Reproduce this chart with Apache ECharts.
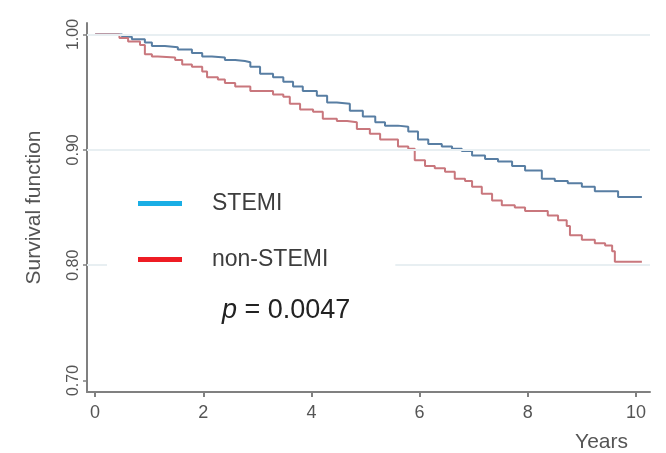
<!DOCTYPE html>
<html>
<head>
<meta charset="utf-8">
<script src="https://cdn.jsdelivr.net/npm/echarts@6/dist/echarts.min.js"></script>
<style>
  html, body { margin: 0; padding: 0; background: #fff; }
  #chart { width: 666px; height: 453px; }
</style>
</head>
<body>
<div id="chart"></div>
<script>
// Kaplan-Meier curves (years, survival)
var stemiYears = [0, 0.50, 0.68, 0.92, 1.05, 1.29, 1.53, 1.79, 1.98, 2.16, 2.40, 2.59, 2.77, 2.87, 3.05, 3.29, 3.48, 3.66, 3.84, 4.10, 4.29, 4.47, 4.71, 4.95, 5.18, 5.36, 5.60, 5.79, 5.97, 6.16, 6.41, 6.60, 6.78, 6.97, 7.21, 7.45, 7.71, 7.95, 8.26, 8.50, 8.74, 9.00, 9.24, 9.67, 10.11];
var stemiSurv = [1.000, 0.998, 0.996, 0.993, 0.990, 0.989, 0.987, 0.984, 0.981, 0.980, 0.978, 0.977, 0.976, 0.972, 0.966, 0.963, 0.959, 0.955, 0.951, 0.947, 0.941, 0.940, 0.934, 0.929, 0.924, 0.921, 0.920, 0.916, 0.909, 0.905, 0.903, 0.901, 0.899, 0.895, 0.892, 0.890, 0.886, 0.882, 0.875, 0.873, 0.871, 0.868, 0.864, 0.859, 0.859];

var nonYears = [0, 0.45, 0.61, 0.83, 0.92, 1.05, 1.16, 1.48, 1.61, 1.79, 1.98, 2.07, 2.27, 2.40, 2.59, 2.87, 3.29, 3.48, 3.60, 3.79, 4.03, 4.21, 4.47, 4.66, 4.84, 5.08, 5.27, 5.60, 5.79, 5.91, 6.10, 6.28, 6.47, 6.65, 6.84, 6.97, 7.15, 7.34, 7.52, 7.76, 7.95, 8.37, 8.56, 8.72, 8.78, 9.00, 9.24, 9.43, 9.56, 9.61, 10.11];
var nonSurv = [1.000, 0.997, 0.994, 0.991, 0.983, 0.981, 0.980, 0.978, 0.974, 0.972, 0.968, 0.963, 0.961, 0.958, 0.955, 0.951, 0.948, 0.946, 0.940, 0.935, 0.933, 0.927, 0.925, 0.924, 0.918, 0.914, 0.909, 0.903, 0.901, 0.891, 0.886, 0.884, 0.881, 0.875, 0.873, 0.868, 0.862, 0.856, 0.852, 0.850, 0.847, 0.843, 0.839, 0.834, 0.826, 0.822, 0.819, 0.817, 0.812, 0.803, 0.803];

var groupNames = ['STEMI', 'non-STEMI'];
var xTicks = [0, 2, 4, 6, 8, 10];
var yTicks = [0.70, 0.80, 0.90, 1.00];
var gridValues = [1.00, 0.90, 0.80];
var pText = '0.0047';

function pairs(xs, ys) {
  var out = [];
  for (var i = 0; i < xs.length; i++) out.push([xs[i], ys[i]]);
  return out;
}

var myChart = echarts.init(document.getElementById('chart'));

var option = {
  animation: false,
  backgroundColor: '#fff',
  grid: { left: 87, right: 16, top: 23, bottom: 58 },
  xAxis: {
    type: 'value',
    min: -0.15,
    max: 10.26,
    name: 'Years',
    nameLocation: 'end',
    nameGap: -22,
    nameTextStyle: {
      fontFamily: 'Liberation Sans, Arial',
      fontSize: 21,
      color: '#555',
      align: 'right',
      verticalAlign: 'top',
      padding: [40, 0, 0, 0]
    },
    axisLine: { onZero: false, lineStyle: { color: '#808080', width: 2 } },
    axisTick: { customValues: xTicks, length: 5, lineStyle: { color: '#808080', width: 2 } },
    axisLabel: {
      customValues: xTicks,
      margin: 12,
      fontFamily: 'Liberation Sans, Arial',
      fontSize: 18,
      color: '#555'
    },
    splitLine: { show: false }
  },
  yAxis: {
    type: 'value',
    min: 0.69,
    max: 1.01,
    name: 'Survival function',
    nameLocation: 'middle',
    nameGap: 42,
    nameTextStyle: {
      fontFamily: 'Liberation Sans, Arial',
      fontSize: 21,
      color: '#555'
    },
    axisLine: { show: true, onZero: false, lineStyle: { color: '#808080', width: 2 } },
    axisTick: { show: true, customValues: yTicks, length: 4, lineStyle: { color: '#808080', width: 1.5 } },
    axisLabel: {
      customValues: yTicks,
      rotate: 90,
      margin: 5,
      fontFamily: 'Liberation Sans, Arial',
      fontSize: 16,
      color: '#555',
      formatter: function (v) { return v.toFixed(2); }
    },
    splitLine: { show: false }
  },
  legend: {
    orient: 'vertical',
    left: 107,
    top: 178,
    padding: [14, 67, 14, 31],
    itemGap: 33,
    itemWidth: 44,
    itemHeight: 5,
    icon: 'rect',
    backgroundColor: '#fff',
    z: 10,
    textStyle: {
      fontFamily: 'Liberation Sans, Arial',
      fontSize: 23,
      lineHeight: 22,
      color: '#3d3d3d',
      padding: [0, 0, 0, 25]
    },
    data: [
      { name: groupNames[0], itemStyle: { color: '#1aaee5' } },
      { name: groupNames[1], itemStyle: { color: '#ee1c24' } }
    ]
  },
  graphic: [
    {
      type: 'text',
      left: 222,
      top: 297,
      z: 20,
      style: {
        text: '{i|p} = ' + pText,
        font: '27px "Liberation Sans", Arial',
        fill: '#222',
        rich: {
          i: { fontStyle: 'italic', fontSize: 27, fontFamily: 'Liberation Sans, Arial', fill: '#222' }
        }
      }
    }
  ],
  series: [
    {
      // faint horizontal reference lines, kept under the curves
      name: 'grid',
      type: 'line',
      data: [],
      z: 1,
      silent: true,
      markLine: {
        silent: true,
        symbol: 'none',
        label: { show: false },
        lineStyle: { color: '#e8eff2', width: 2, type: 'solid' },
        data: gridValues.map(function (v) { return { yAxis: v }; })
      }
    },
    {
      name: groupNames[0],
      type: 'line',
      step: 'end',
      showSymbol: false,
      color: '#587ea3',
      lineStyle: { color: '#587ea3', width: 2 },
      data: pairs(stemiYears, stemiSurv),
      z: 3
    },
    {
      name: groupNames[1],
      type: 'line',
      step: 'end',
      showSymbol: false,
      color: '#c9777d',
      lineStyle: { color: '#c9777d', width: 2 },
      data: pairs(nonYears, nonSurv),
      z: 3
    }
  ]
};

myChart.setOption(option);
window.addEventListener('resize', function () {
  myChart.resize();
});
</script>
</body>
</html>
